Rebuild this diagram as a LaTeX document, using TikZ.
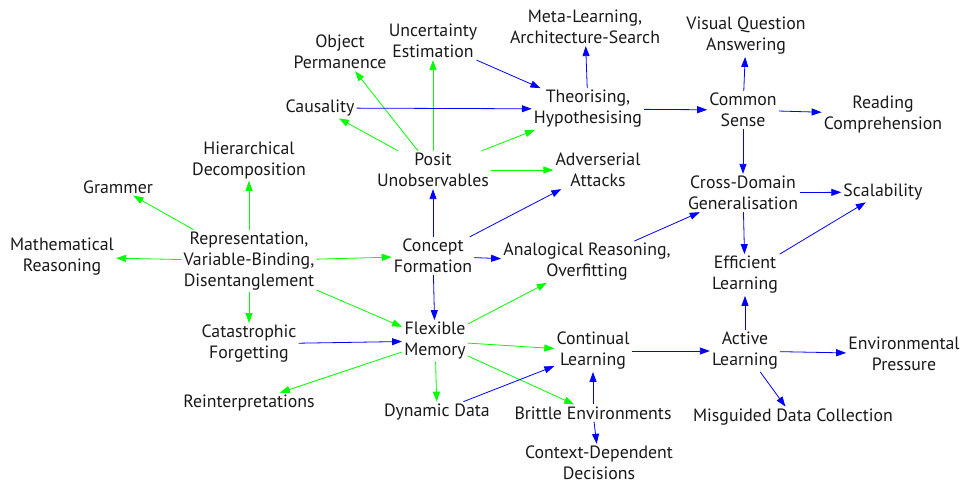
\documentclass[tikz,border=0pt]{standalone}
\usepackage{fontspec}
\setmainfont{PT Sans}
\usetikzlibrary{arrows.meta}
\tikzstyle{topic} = [rectangle, align=center, inner sep=2pt,
  font=\fontsize{17.8}{21}\selectfont, text=black!90]
\tikzstyle{gline} = [draw, -{Triangle[length=10pt,width=7pt]}, line width=0.8pt, color=green]
\tikzstyle{bline} = [draw, -{Triangle[length=10pt,width=7pt]}, line width=0.8pt, color=blue]

\begin{document}
\begin{tikzpicture}[x=1pt, y=-1pt]
    \useasboundingbox (0,0) rectangle (962,484);

    % top row
    \node [topic] (objperm) at (340,52) {Object\\Permanence};
    \node [topic] (uncert) at (433,41) {Uncertainty\\Estimation};
    \node [topic] (metalearn) at (585,27) {Meta-Learning,\\Architecture-Search};
    \node [topic] (vqa) at (746,36) {Visual Question\\Answering};
    \node [topic] (causality) at (320,108) {Causality};
    \node [topic] (theorise) at (588,109) {Theorising,\\Hypothesising};
    \node [topic] (commonsense) at (743,110) {Common\\Sense};
    \node [topic] (reading) at (883,114) {Reading\\Comprehension};

    % middle
    \node [topic] (hierarch) at (249,160) {Hierarchical\\Decomposition};
    \node [topic] (posit) at (433,170) {Posit\\Unobservables};
    \node [topic] (adverse) at (598,170) {Adverserial\\Attacks};
    \node [topic] (grammer) at (118,187) {Grammer};
    \node [topic] (crossdomain) at (743,193) {Cross-Domain\\Generalisation};
    \node [topic] (scalability) at (883,192) {Scalability};
    \node [topic] (maths) at (62,257) {Mathematical\\Reasoning};
    \node [topic] (represent) at (249,261) {Representation,\\Variable-Binding,\\Disentanglement};
    \node [topic] (concept) at (433,256) {Concept\\Formation};
    \node [topic] (analogy) at (587,262) {Analogical Reasoning,\\Overfitting};
    \node [topic] (efficient) at (745,275) {Efficient\\Learning};

    % bottom
    \node [topic] (catastrophic) at (249,344) {Catastrophic\\Forgetting};
    \node [topic] (flexmem) at (435,341) {Flexible\\Memory};
    \node [topic] (continual) at (593,351) {Continual\\Learning};
    \node [topic] (active) at (745,351) {Active\\Learning};
    \node [topic] (environ) at (904,354) {Environmental\\Pressure};
    \node [topic] (reinterp) at (249,403) {Reinterpretations};
    \node [topic] (dynamic) at (437,412) {Dynamic Data};
    \node [topic] (brittle) at (593,413) {Brittle Environments};
    \node [topic] (misguided) at (793,417) {Misguided Data Collection};
    \node [topic] (context) at (599,463) {Context-Dependent\\Decisions};

    \path [gline] (posit) -- (objperm);
    \path [gline] (posit) -- (uncert);
    \path [gline] (posit) -- (causality);
    \path [gline] (posit) -- (theorise);
    \path [gline] (posit) -- (adverse);
    \path [gline] (represent) -- (grammer);
    \path [gline] (represent) -- (hierarch);
    \path [gline] (represent) -- (maths);
    \path [gline] (represent) -- (concept);
    \path [gline] (represent) -- (catastrophic);
    \path [gline] (represent) -- (flexmem);
    \path [gline] (flexmem) -- (reinterp);
    \path [gline] (flexmem) -- (dynamic);
    \path [gline] (flexmem) -- (continual);
    \path [gline] (flexmem) -- (brittle);
    \path [gline] (flexmem) -- (analogy);

    \path [bline] (uncert) -- (theorise);
    \path [bline] (causality) -- (theorise);
    \path [bline] (theorise) -- (metalearn);
    \path [bline] (theorise) -- (commonsense);
    \path [bline] (commonsense) -- (vqa);
    \path [bline] (commonsense) -- (reading);
    \path [bline] (commonsense) -- (crossdomain);
    \path [bline] (crossdomain) -- (scalability);
    \path [bline] (crossdomain) -- (efficient);
    \path [bline] (efficient) -- (scalability);
    \path [bline] (analogy) -- (crossdomain);
    \path [bline] (concept) -- (posit);
    \path [bline] (concept) -- (adverse);
    \path [bline] (concept) -- (analogy);
    \path [bline] (concept) -- (flexmem);
    \path [bline] (catastrophic) -- (flexmem);
    \path [bline] (dynamic) -- (continual);
    \path [bline] (brittle) -- (continual);
    \path [bline] (brittle) -- (context);
    \path [bline] (continual) -- (active);
    \path [bline] (active) -- (efficient);
    \path [bline] (active) -- (environ);
    \path [bline] (active) -- (misguided);

\end{tikzpicture}
\end{document}
